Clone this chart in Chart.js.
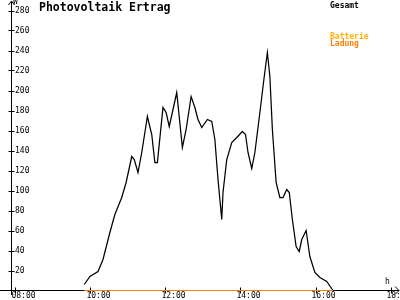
<!DOCTYPE html>
<html>
<head>
<meta charset="utf-8">
<script src="https://cdn.jsdelivr.net/npm/chart.js@4/dist/chart.umd.min.js"></script>
<style>
  html, body { margin: 0; padding: 0; background: #fff; }
  #wrap { width: 400px; height: 300px; }
</style>
</head>
<body>
<div id="wrap"><canvas id="canvas"></canvas></div>
<script>
// ---- data ----
var times = ['09:50','09:59','10:12','10:20','10:31','10:39','10:50','10:57','11:06','11:10',
  '11:16','11:22','11:31','11:38','11:43','11:47','11:56','12:01','12:06','12:18',
  '12:27','12:33','12:41','12:47','12:52','12:58','13:07','13:14','13:19','13:24',
  '13:30','13:32','13:38','13:46','13:54','14:03','14:08','14:12','14:18','14:23',
  '14:31','14:38','14:43','14:47','14:51','14:57','15:03','15:08','15:14','15:18',
  '15:23','15:29','15:34','15:38','15:45','15:51','15:59','16:07','16:18','16:28'];
var gesamt = [6,14,19,31,58,76,93,108,134,131,
  118,138,174,156,128,128,183,178,164,198,
  143,161,194,183,171,163,171,169,151,111,
  71,98,131,148,153,159,156,138,122,138,
  178,214,238,214,161,108,93,93,101,98,
  71,44,39,51,60,34,18,13,9,0];
var ladungTimes = ['09:50','16:28'];
var batterie = [0,0];
var ladung = [0,0];
var xTicks = ['08:00','10:00','12:00','14:00','16:00','18:00'];
var yTicks = [20,40,60,80,100,120,140,160,180,200,220,240,260,280];

function toMin(s) { var p = s.split(':'); return +p[0]*60 + +p[1]; }
function pts(t, v) { return t.map(function(s, i){ return {x: toMin(s), y: v[i]}; }); }
function fmt(m) { var h = Math.floor(m/60), mm = m%60; return (h<10?'0':'')+h+':'+(mm<10?'0':'')+mm; }

var mono = 'DejaVu Sans Mono';

// axes with arrows, crossing ticks, title and legend texts
var decor = {
  id: 'decor',
  afterDraw: function(chart) {
    var ctx = chart.ctx, a = chart.chartArea;
    var xs = chart.scales.x, ys = chart.scales.y;
    var ax = Math.round(a.left) + 0.5, ay = Math.round(a.bottom) - 0.5;
    ctx.save();
    ctx.strokeStyle = '#000';
    ctx.lineWidth = 1;
    ctx.beginPath();
    // y axis + arrow
    ctx.moveTo(ax, 295); ctx.lineTo(ax, 1);
    ctx.moveTo(ax-3, 5); ctx.lineTo(ax, 1); ctx.lineTo(ax+3, 5);
    // x axis + arrow
    ctx.moveTo(0, ay); ctx.lineTo(399, ay);
    ctx.moveTo(395, ay-4); ctx.lineTo(399, ay); ctx.lineTo(395, ay+4);
    // ticks
    ys.ticks.forEach(function(t){
      if (yTicks.indexOf(t.value) < 0) return;
      var py = Math.round(ys.getPixelForValue(t.value)) + 0.5;
      ctx.moveTo(ax-3, py); ctx.lineTo(ax+3, py);
    });
    xs.ticks.forEach(function(t){
      var px = Math.round(xs.getPixelForValue(t.value)) + 0.5;
      ctx.moveTo(px, ay-3); ctx.lineTo(px, ay+3);
    });
    ctx.stroke();
    // redraw the charge line over the axis
    chart.getDatasetMeta(2).controller.draw();

    ctx.textBaseline = 'alphabetic';
    ctx.textAlign = 'left';
    ctx.fillStyle = '#000';
    ctx.font = 'bold 11.5px "' + mono + '"';
    ctx.fillText('Photovoltaik Ertrag', 39, 11);
    ctx.font = '8px "' + mono + '"';
    ctx.fillText('W', 13, 4);
    ctx.fillText('h', 385, 284);
    var ds = chart.data.datasets;
    ctx.font = 'bold 8px "' + mono + '"';
    ctx.fillStyle = ds[0].borderColor; ctx.fillText(ds[0].label, 330, 7.5);
    ctx.fillStyle = ds[1].borderColor; ctx.fillText(ds[1].label, 330, 39);
    ctx.fillStyle = ds[2].borderColor; ctx.fillText(ds[2].label, 330, 46);
    ctx.restore();
  }
};

var config = {
  type: 'line',
  data: {
    datasets: [
      { label: 'Gesamt', data: pts(times, gesamt), borderColor: '#000000', borderWidth: 1.25,
        pointRadius: 0, tension: 0, fill: false, order: 1 },
      { label: 'Batterie', data: pts(ladungTimes, batterie), borderColor: '#ffb000', borderWidth: 1,
        pointRadius: 0, tension: 0, fill: false, order: 3 },
      { label: 'Ladung', data: pts(ladungTimes, ladung), borderColor: '#ff8000', borderWidth: 1,
        pointRadius: 0, tension: 0, fill: false, order: 2 }
    ]
  },
  options: {
    responsive: true,
    maintainAspectRatio: false,
    animation: false,
    layout: { padding: { top: 0, right: 2, bottom: 0, left: 0 } },
    plugins: { legend: { display: false }, tooltip: { enabled: false }, title: { display: false } },
    scales: {
      x: {
        type: 'linear',
        min: 472.8,
        max: 1092,
        border: { display: false },
        grid: { display: false, drawTicks: false },
        ticks: {
          stepSize: 120,
          includeBounds: false,
          autoSkip: false,
          maxRotation: 0,
          labelOffset: 8,
          padding: 1,
          color: '#000',
          font: { family: mono, size: 8 },
          callback: function(v) { var s = fmt(v); return xTicks.indexOf(s) >= 0 ? s : null; }
        },
        afterFit: function(s) { s.height = 9.5; s.paddingLeft = 0; s.paddingRight = 0; }
      },
      y: {
        min: 0,
        max: 290.5,
        border: { display: false },
        grid: { display: false, drawTicks: false },
        ticks: {
          stepSize: 20,
          includeBounds: false,
          mirror: true,
          padding: 4,
          color: '#000',
          font: { family: mono, size: 8 },
          callback: function(v) { return yTicks.indexOf(v) >= 0 ? String(v) : null; }
        },
        afterFit: function(s) { s.width = 11; s.paddingTop = 0; s.paddingBottom = 0; }
      }
    }
  },
  plugins: [decor]
};

var ctx = document.getElementById('canvas').getContext('2d');
window.myLine = new Chart(ctx, config);
</script>
</body>
</html>
